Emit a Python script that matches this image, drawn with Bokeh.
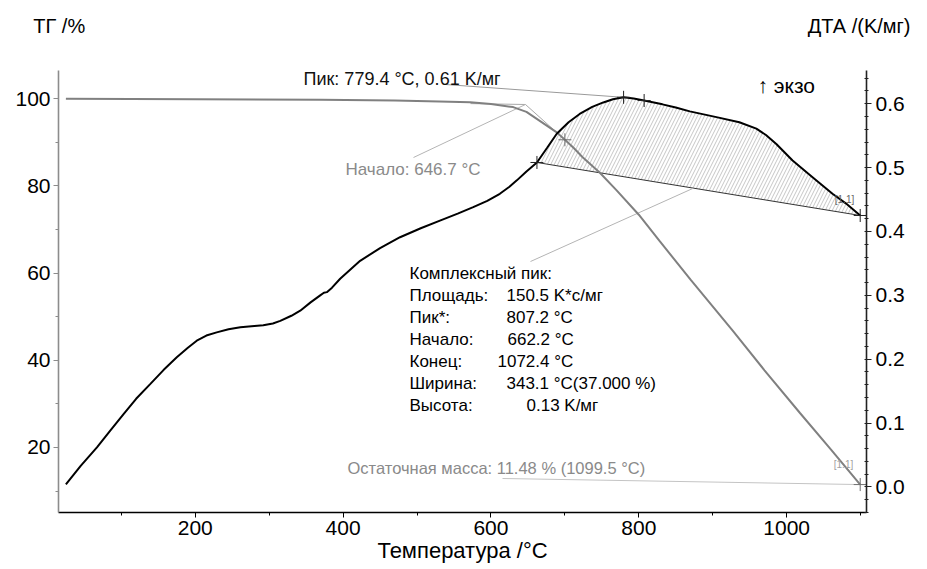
from bokeh.plotting import figure
from bokeh.models import Range1d, LinearAxis, Label, FixedTicker, PrintfTickFormatter
from bokeh.embed import file_html
from bokeh.resources import INLINE
import numpy as np

# ---------------- data ----------------
dta_temp = [25, 45, 67, 85, 103, 120, 139, 157, 175, 190, 202, 215, 229, 245, 261,
            280, 292, 305, 315, 330, 342, 356, 369, 374, 378, 385, 396, 423, 450, 477,
            505, 531, 555, 576, 595, 612, 625, 635, 648, 662.2, 676, 689, 705, 720,
            737, 752, 765, 779.4, 793, 807.2, 832, 850, 869, 905, 936, 959, 972, 986,
            1008, 1035, 1062, 1080, 1099.5]
dta_val = [0.004, 0.033, 0.062, 0.088, 0.114, 0.138, 0.161, 0.183, 0.203, 0.218,
           0.229, 0.237, 0.242, 0.247, 0.250, 0.252, 0.253, 0.256, 0.260, 0.268,
           0.276, 0.289, 0.300, 0.304, 0.305, 0.312, 0.326, 0.354, 0.374, 0.391,
           0.405, 0.417, 0.428, 0.438, 0.448, 0.459, 0.470, 0.480, 0.494, 0.508,
           0.531, 0.553, 0.571, 0.584, 0.595, 0.602, 0.607, 0.610, 0.608, 0.605,
           0.599, 0.594, 0.588, 0.579, 0.571, 0.561, 0.551, 0.537, 0.511, 0.485,
           0.459, 0.444, 0.425]

tg_temp = [25, 200, 370, 470, 530, 572, 600, 630, 648, 662, 676, 689, 700, 712,
           724, 747, 770, 800, 828, 870, 927, 970, 1018, 1060, 1099.5]
tg_val = [100.0, 99.9, 99.8, 99.6, 99.4, 99.2, 98.8, 98.1, 97.0, 95.4, 93.8, 92.3,
          90.6, 88.7, 86.6, 83.1, 79.0, 73.4, 67.4, 58.5, 46.8, 37.7, 27.9, 19.5, 11.48]

x_ticks = [200, 400, 600, 800, 1000]
x_minor = [100, 300, 500, 700, 900, 1100]
tg_ticks = [20, 40, 60, 80, 100]
tg_minor = [10, 30, 50, 70, 90]
dta_ticks = [0.0, 0.1, 0.2, 0.3, 0.4, 0.5, 0.6]
dta_minor = [round(i * 0.02, 2) for i in range(-2, 33)]

# evaluation results
peak_T, peak_V = 779.4, 0.61
peak2_T = 807.2
onset_T = 662.2
end_T = 1099.5
tg_onset_T, tg_onset_V = 646.7, 98.7
tg_infl_T = 700
residual_V = 11.48

# ---------------- figure ----------------
W, H = 927, 569
FX0, FX1, FY0, FY1 = 58, 866, 70, 512
X0, X1 = 15, 1108
Y0, Y1 = 5.07, 106.5
R0, R1 = -0.040, 0.652

p = figure(width=W, height=H, output_backend="svg", toolbar_location=None,
           x_range=Range1d(X0, X1), y_range=Range1d(Y0, Y1),
           min_border_left=FX0, min_border_right=W - FX1,
           min_border_top=FY0, min_border_bottom=H - FY1)
p.extra_y_ranges = {"dta": Range1d(R0, R1)}
p.grid.visible = False
p.outline_line_color = None
p.background_fill_color = "white"
p.border_fill_color = "white"

FONT = "Liberation Sans"


def dx(px):
    return X0 + (px - FX0) / (FX1 - FX0) * (X1 - X0)


def dy(py):
    return Y0 + (FY1 - py) / (FY1 - FY0) * (Y1 - Y0)


def dr(py):
    return R0 + (FY1 - py) / (FY1 - FY0) * (R1 - R0)


# axes
xa = p.xaxis[0]
xa.ticker = FixedTicker(ticks=x_ticks, minor_ticks=x_minor)
xa.axis_line_color = "black"
xa.axis_line_width = 1.6
xa.major_tick_line_color = "black"
xa.minor_tick_line_color = "black"
xa.major_tick_out = 5
xa.major_tick_in = 0
xa.minor_tick_out = 3
xa.minor_tick_in = 0
xa.major_label_text_font = FONT
xa.major_label_text_font_size = "21px"
xa.major_label_text_color = "black"
xa.major_label_standoff = 3
xa.axis_label = "Температура /°C"
xa.axis_label_text_font = FONT
xa.axis_label_text_font_size = "22px"
xa.axis_label_text_font_style = "normal"
xa.axis_label_text_color = "black"
xa.axis_label_standoff = 0

ya = p.yaxis[0]
ya.ticker = FixedTicker(ticks=tg_ticks, minor_ticks=tg_minor)
ya.axis_line_color = "#8c8c8c"
ya.axis_line_width = 1.6
ya.major_tick_line_color = "#8c8c8c"
ya.minor_tick_line_color = "#8c8c8c"
ya.major_tick_out = 5
ya.major_tick_in = 0
ya.minor_tick_out = 3
ya.minor_tick_in = 0
ya.major_label_text_font = FONT
ya.major_label_text_font_size = "21px"
ya.major_label_text_color = "black"
ya.major_label_standoff = 3

ra = LinearAxis(y_range_name="dta", ticker=FixedTicker(ticks=dta_ticks, minor_ticks=dta_minor),
                formatter=PrintfTickFormatter(format="%.1f"))
ra.axis_line_color = "#222222"
ra.axis_line_width = 1.6
ra.major_tick_line_color = "#222222"
ra.minor_tick_line_color = "#222222"
ra.major_tick_out = 5
ra.major_tick_in = 0
ra.minor_tick_out = 2
ra.minor_tick_in = 2
ra.major_label_text_font = FONT
ra.major_label_text_font_size = "21px"
ra.major_label_text_color = "black"
ra.major_label_standoff = 4
p.add_layout(ra, "right")

# axis titles at the top, drawn as the labels of an unlined axis above the frame
title_left_at = 16
title_right_at = 1098
ta = LinearAxis(ticker=FixedTicker(ticks=[title_left_at, title_right_at]),
                major_label_overrides={title_left_at: "ТГ /%", title_right_at: "ДТА /(K/мг)"})
ta.axis_line_color = None
ta.major_tick_line_color = None
ta.minor_tick_line_color = None
ta.major_label_text_font = FONT
ta.major_label_text_font_size = "20px"
ta.major_label_text_color = "black"
ta.major_label_standoff = 28
p.add_layout(ta, "above")

# ---------------- hatched peak area ----------------
onset_V = float(np.interp(onset_T, dta_temp, dta_val))
end_V = dta_val[-1]
seg_T = [t for t in dta_temp if t >= onset_T]
seg_V = [v for t, v in zip(dta_temp, dta_val) if t >= onset_T]
patch_x = seg_T + [end_T, onset_T]
patch_y = seg_V + [end_V, onset_V]
p.patch(patch_x, patch_y, y_range_name="dta", fill_alpha=0, line_color=None,
        hatch_pattern="/", hatch_color="#b8b8b8", hatch_scale=7, hatch_weight=0.8)

# baseline of the complex peak
p.line([onset_T, end_T], [onset_V, end_V], y_range_name="dta", line_color="#333333", line_width=1)

# TG tangent construction (onset)
p.line([dx(470), tg_onset_T], [tg_onset_V + 0.2, tg_onset_V], line_color="#a8a8a8", line_width=1)
tg_infl_V = float(np.interp(tg_infl_T, tg_temp, tg_val))
p.line([tg_onset_T, tg_infl_T], [tg_onset_V, tg_infl_V], line_color="#a8a8a8", line_width=1)

# leader lines
p.line([dx(445), peak_T], [dr(84), peak_V], y_range_name="dta", line_color="#9a9a9a", line_width=1)
p.line([dx(413), tg_onset_T], [dy(157), tg_onset_V], line_color="#b4b4b4", line_width=1)
lead_T = dx(693)
lead_V = onset_V + (end_V - onset_V) * (lead_T - onset_T) / (end_T - onset_T)
p.line([dx(530), lead_T], [dr(261), lead_V], y_range_name="dta", line_color="#b4b4b4", line_width=1)
p.line([dx(502), end_T], [dy(478), residual_V], line_color="#c4c4c4", line_width=1)
p.line([dx(846), end_T], [dy(467), residual_V], line_color="#c4c4c4", line_width=1)

# curves
p.line(tg_temp, tg_val, line_color="#808080", line_width=2)
p.line(dta_temp, dta_val, y_range_name="dta", line_color="black", line_width=2)

# cross markers
p.scatter([onset_T, peak_T, peak2_T, end_T],
          [onset_V, peak_V, float(np.interp(peak2_T, dta_temp, dta_val)), end_V],
          y_range_name="dta", marker="cross", size=13, line_color="#222222", line_width=1)
p.scatter([tg_infl_T, end_T], [tg_infl_V, residual_V], marker="cross", size=13,
          line_color="#707070", line_width=1)


# ---------------- texts inside the frame ----------------
def lab(text, px, py, size, color="black", align="left"):
    p.add_layout(Label(x=dx(px), y=dy(py), text=text, text_font=FONT, text_font_size=size,
                       text_color=color, text_align=align, text_baseline="middle"))


lab("↑ экзо", 757, 85, "21px")
lab("Пик: 779.4 °C, 0.61 K/мг", 303, 78, "18px", color="#111111")
lab("Начало: 646.7 °C", 345, 169, "17px", color="#8a8a8a")
lab("Остаточная масса: 11.48 % (1099.5 °C)", 347, 467, "16.5px", color="#8a8a8a")
lab("[1.1]", 844, 199, "10px", color="#666666", align="center")
lab("[1.1]", 843, 464, "10px", color="#a0a0a0", align="center")

block_names = ["Комплексный пик:", "Площадь:", "Пик*:", "Начало:", "Конец:", "Ширина:", "Высота:"]
block_vals = ["", "150.5 K*c/мг", "807.2 °C", "662.2 °C", "1072.4 °C", "343.1 °C(37.000 %)", "0.13 K/мг"]
block_y = [272.5, 295, 317, 339, 361, 383, 405]
block_vx = [0, 506, 506, 507, 497, 506, 526]
for name, val, yy, vx in zip(block_names, block_vals, block_y, block_vx):
    lab(name, 409, yy, "17px")
    if val:
        lab(val, vx, yy, "17px")

open("out.html", "w").write(file_html(p, INLINE))
